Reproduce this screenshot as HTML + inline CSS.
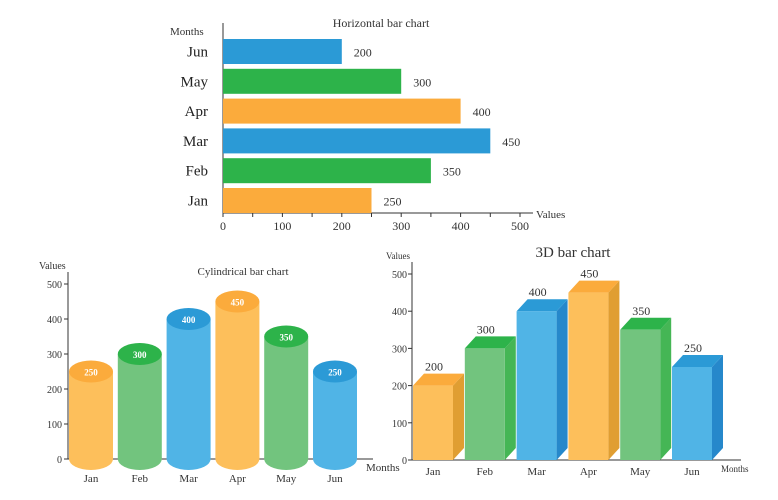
<!DOCTYPE html>
<html><head><meta charset="utf-8"><style>
html,body{margin:0;padding:0;background:#fff;}
svg{display:block;font-family:"Liberation Serif",serif;}
</style></head><body>
<svg id="s" width="778" height="500" viewBox="0 0 778 500"></svg>
<script>
const months=["Jan","Feb","Mar","Apr","May","Jun"];
const hValues=[250,350,450,400,300,200];
const cylValues=[250,300,400,450,350,250];
const barValues=[200,300,400,450,350,250];
const ticks=[0,100,200,300,400,500];
const colorKeys=["o","g","b","o","g","b"];
const C={o:{f:"#fdbf5b",t:"#fbab3c",s:"#e09e32"},g:{f:"#72c47e",t:"#2db34a",s:"#45b655"},b:{f:"#50b4e6",t:"#2b9ad6",s:"#2688cb"}};
const svg=document.getElementById('s');
const NS="http://www.w3.org/2000/svg";
function el(tag,attrs,parent,text){const e=document.createElementNS(NS,tag);for(const k in attrs)e.setAttribute(k,attrs[k]);if(text!==undefined)e.textContent=text;(parent||svg).appendChild(e);return e;}
function grp(name){const g=el('g',{});return g;}

// ===== Horizontal bar chart =====
(function(){
const g=grp('horizontal-bar-chart');
const x0=223,y0=213,sx=v=>x0+v*297/500;
const band=29.8,bh=25;
el('line',{x1:x0,y1:23,x2:x0,y2:y0,stroke:"#333","stroke-width":1},g);
el('line',{x1:x0,y1:y0,x2:533,y2:y0,stroke:"#333","stroke-width":1},g);
for(let v=0;v<=500;v+=50){el('line',{x1:sx(v),y1:y0,x2:sx(v),y2:y0+4,stroke:"#333"},g);}
ticks.forEach(v=>{const t=el('text',{x:sx(v),y:y0+17,"font-size":12,"text-anchor":"middle",fill:"#333"},g,v);});
months.forEach((m,i)=>{
 const yb=y0-(i+1)*band+(band-bh);
 const r=el('rect',{x:x0,y:yb,width:sx(hValues[i])-x0,height:bh,fill:C[colorKeys[i]].t},g);
 
 
 const l=el('text',{x:208,y:yb+bh/2+5,"font-size":15,"text-anchor":"end",fill:"#222"},g,m);
 
 
 const vl=el('text',{x:sx(hValues[i])+12,y:yb+bh/2+5,"font-size":12,fill:"#333"},g,hValues[i]);
 
 
});
const t=el('text',{x:381,y:27,"font-size":12,"text-anchor":"middle",fill:"#333"},g,"Horizontal bar chart");

const a=el('text',{x:170,y:35,"font-size":11,fill:"#333"},g,"Months");

const b=el('text',{x:536,y:218,"font-size":11,fill:"#333"},g,"Values");

})();

// ===== Cylindrical bar chart =====
(function(){
const g=grp('cylindrical-bar-chart');
const x0=68,y0=459,sy=v=>y0-v*175/500;
const step=48.8,w=44,ry=11;
el('line',{x1:x0,y1:272,x2:x0,y2:y0,stroke:"#333"},g);
el('line',{x1:x0,y1:y0,x2:373,y2:y0,stroke:"#333"},g);
ticks.forEach(v=>{el('line',{x1:x0-4,y1:sy(v),x2:x0,y2:sy(v),stroke:"#333"},g);
 const t=el('text',{x:x0-6,y:sy(v)+4,"font-size":10,"text-anchor":"end",fill:"#333"},g,v);
 });
months.forEach((m,i)=>{
 const xl=x0+1+i*step,cx=xl+w/2,yt=sy(cylValues[i]),c=C[colorKeys[i]];
 const cg=el('g',{},g);
 
 
 el('ellipse',{cx:cx,cy:y0,rx:w/2,ry:ry,fill:c.f},cg);
 el('rect',{x:xl,y:yt,width:w,height:y0-yt,fill:c.f},cg);
 el('ellipse',{cx:cx,cy:yt,rx:w/2,ry:ry,fill:c.t},cg);
 const v=el('text',{x:cx,y:yt+4,"font-size":9,"font-weight":"bold","text-anchor":"middle",fill:"#fff"},cg,cylValues[i]);
 
 const l=el('text',{x:cx,y:482,"font-size":11,"text-anchor":"middle",fill:"#333"},g,m);
 
});
const t=el('text',{x:243,y:275,"font-size":11,"text-anchor":"middle",fill:"#333"},g,"Cylindrical bar chart");

const a=el('text',{x:39,y:269,"font-size":10,fill:"#333"},g,"Values");

const b=el('text',{x:366,y:471,"font-size":11,fill:"#333"},g,"Months");

})();

// ===== 3D bar chart =====
(function(){
const g=grp('3d-bar-chart');
const x0=412,y0=460,sy=v=>y0-v*186/500;
const step=51.8,w=40,dx=11,dy=12;
el('line',{x1:x0,y1:262,x2:x0,y2:y0,stroke:"#333"},g);
el('line',{x1:x0,y1:y0,x2:741,y2:y0,stroke:"#333"},g);
ticks.forEach(v=>{el('line',{x1:x0-4,y1:sy(v),x2:x0,y2:sy(v),stroke:"#333"},g);
 const t=el('text',{x:x0-5,y:sy(v)+4,"font-size":10,"text-anchor":"end",fill:"#333"},g,v);
 });
months.forEach((m,i)=>{
 const xl=x0+1+i*step,yt=sy(barValues[i]),c=C[colorKeys[i]];
 const bg=el('g',{},g);
 
 
 el('polygon',{points:`${xl+w},${yt} ${xl+w+dx},${yt-dy} ${xl+w+dx},${y0-dy} ${xl+w},${y0}`,fill:c.s},bg);
 el('polygon',{points:`${xl},${yt} ${xl+dx},${yt-dy} ${xl+w+dx},${yt-dy} ${xl+w},${yt}`,fill:c.t},bg);
 el('rect',{x:xl,y:yt,width:w,height:y0-yt,fill:c.f},bg);
 const v=el('text',{x:xl+w/2+1,y:yt-15,"font-size":12,"text-anchor":"middle",fill:"#333"},bg,barValues[i]);
 
 const l=el('text',{x:xl+w/2,y:475,"font-size":11,"text-anchor":"middle",fill:"#333"},g,m);
 
});
const t=el('text',{x:573,y:257,"font-size":15,"text-anchor":"middle",fill:"#333"},g,"3D bar chart");

const a=el('text',{x:386,y:259,"font-size":9,fill:"#333"},g,"Values");

const b=el('text',{x:721,y:472,"font-size":9,fill:"#333"},g,"Months");

})();
</script>
</body></html>
